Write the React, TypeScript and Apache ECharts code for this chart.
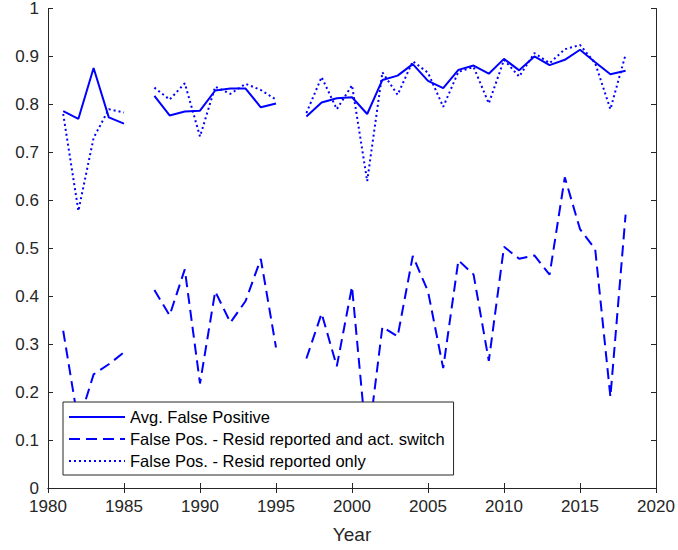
import * as echarts from "echarts";
import React, { useEffect, useRef } from "react";

// years 1981-2018, 1986 and 1996 have no data
const years = [
  1981, 1982, 1983, 1984, 1985, 1986, 1987, 1988, 1989, 1990,
  1991, 1992, 1993, 1994, 1995, 1996, 1997, 1998, 1999, 2000,
  2001, 2002, 2003, 2004, 2005, 2006, 2007, 2008, 2009, 2010,
  2011, 2012, 2013, 2014, 2015, 2016, 2017, 2018,
];

const avgFalsePositive = [
  0.786, 0.77, 0.876, 0.773, 0.76, null, 0.818, 0.777, 0.785, 0.787,
  0.829, 0.833, 0.833, 0.794, 0.802, null, 0.775, 0.804, 0.813, 0.815,
  0.78, 0.851, 0.86, 0.884, 0.849, 0.834, 0.872, 0.881, 0.864, 0.895,
  0.871, 0.9, 0.882, 0.893, 0.914, 0.888, 0.863, 0.87,
];

const residAndSwitch = [
  0.328, 0.135, 0.237, 0.258, 0.283, null, 0.413, 0.36, 0.456, 0.218,
  0.41, 0.345, 0.39, 0.478, 0.293, null, 0.27, 0.364, 0.254, 0.42,
  0.08, 0.336, 0.316, 0.484, 0.41, 0.25, 0.475, 0.445, 0.265, 0.503,
  0.478, 0.485, 0.445, 0.648, 0.54, 0.498, 0.19, 0.57,
];

const residOnly = [
  0.78, 0.578, 0.73, 0.79, 0.783, null, 0.835, 0.81, 0.844, 0.733,
  0.837, 0.822, 0.843, 0.83, 0.81, null, 0.782, 0.857, 0.79, 0.84,
  0.64, 0.867, 0.82, 0.89, 0.866, 0.795, 0.868, 0.878, 0.802, 0.893,
  0.858, 0.907, 0.886, 0.915, 0.924, 0.886, 0.79, 0.904,
];

const seriesNames = [
  "Avg. False Positive",
  "False Pos. - Resid reported and act. switch",
  "False Pos. - Resid reported only",
];

const font = "'Liberation Sans', Arial, sans-serif";
const axisColor = "#262626";
const blue = "#0000ff";

const pairs = (vals: (number | null)[]) => years.map((y, i) => [y, vals[i]]);

const App: React.FC = () => {
  const chartRef = useRef<HTMLDivElement>(null);

  useEffect(() => {
    if (!chartRef.current) return;
    const chart = echarts.init(chartRef.current, undefined, { renderer: "svg" });

    const xBase = {
      type: "value" as const,
      min: 1980,
      max: 2020,
      interval: 5,
      splitLine: { show: false },
      axisLine: { show: true, lineStyle: { color: axisColor, width: 1 } },
      axisTick: { show: true, inside: true, length: 5, lineStyle: { color: axisColor } },
    };
    const yBase = {
      type: "value" as const,
      min: 0,
      max: 1,
      interval: 0.1,
      splitLine: { show: false },
      axisLine: { show: true, lineStyle: { color: axisColor, width: 1 } },
      axisTick: { show: true, inside: true, length: 5, lineStyle: { color: axisColor } },
    };

    chart.setOption({
      animation: false,
      backgroundColor: "#fff",
      textStyle: { fontFamily: font },
      grid: { left: 48, right: 22, top: 8, bottom: 62 },
      xAxis: [
        {
          ...xBase,
          position: "bottom",
          name: "Year",
          nameLocation: "middle",
          nameGap: 37,
          nameTextStyle: { color: axisColor, fontSize: 19, fontFamily: font },
          axisLabel: {
            color: axisColor,
            fontSize: 17,
            margin: 10,
            fontFamily: font,
            formatter: (v: number) => String(v),
          },
        },
        { ...xBase, position: "top", axisLabel: { show: false } },
      ],
      yAxis: [
        {
          ...yBase,
          position: "left",
          axisLabel: { color: axisColor, fontSize: 17, margin: 9, fontFamily: font },
        },
        { ...yBase, position: "right", axisLabel: { show: false } },
      ],
      legend: {
        data: seriesNames,
        orient: "vertical",
        left: 63,
        top: 402,
        itemWidth: 56,
        itemHeight: 14,
        itemGap: 0,
        padding: [4, 9, 3, 5],
        borderColor: axisColor,
        borderWidth: 1,
        backgroundColor: "#fff",
        z: 10,
        itemStyle: { opacity: 0 },
        textStyle: { color: "#000", fontSize: 16.5, lineHeight: 22, fontFamily: font },
      },
      series: [
        {
          name: seriesNames[0],
          type: "line",
          data: pairs(avgFalsePositive),
          symbol: "none",
          connectNulls: false,
          lineStyle: { color: blue, width: 2, type: "solid" },
          itemStyle: { color: blue },
        },
        {
          name: seriesNames[1],
          type: "line",
          data: pairs(residAndSwitch),
          symbol: "none",
          connectNulls: false,
          lineStyle: { color: blue, width: 2, type: [11, 6] },
          itemStyle: { color: blue },
        },
        {
          name: seriesNames[2],
          type: "line",
          data: pairs(residOnly),
          symbol: "none",
          connectNulls: false,
          lineStyle: { color: blue, width: 2, type: [2, 3] },
          itemStyle: { color: blue },
        },
      ],
    });

    return () => chart.dispose();
  }, []);

  return (
    <div
      ref={chartRef}
      style={{ position: "absolute", left: 0, top: 0, width: 678, height: 550 }}
    />
  );
};

export default App;
